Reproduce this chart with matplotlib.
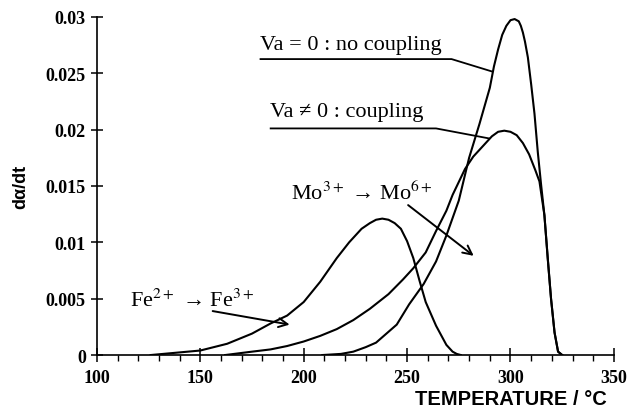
import numpy as np
import matplotlib
matplotlib.use("Agg")
import matplotlib.pyplot as plt
from matplotlib.ticker import MultipleLocator

plt.rcParams["mathtext.fontset"] = "stix"

# Fe2+ -> Fe3+ peak
fe_t = [126, 138, 150, 163, 175, 184, 192, 200, 208, 216, 222, 228, 232, 235,
        238, 241, 244, 247, 250, 253, 256, 259, 264, 269, 272, 274, 276]
fe_v = [0, 0.0002, 0.0004, 0.0010, 0.0019, 0.0028, 0.0035, 0.0047, 0.0065,
        0.0086, 0.0100, 0.0112, 0.0117, 0.0120, 0.0121, 0.0120, 0.0117, 0.0112,
        0.0101, 0.0086, 0.0066, 0.0047, 0.0026, 0.0009, 0.0003, 0.0001, 0]

# Va != 0 : coupling
cp_t = [162, 175, 184, 192, 200, 208, 216, 224, 232, 241, 248, 253, 259, 264,
        269, 272, 278, 282, 285, 288, 291, 294, 297, 300, 303, 306, 309, 312,
        314, 316.4, 318, 319.6, 321.3, 323, 325]
cp_v = [0, 0.0003, 0.0005, 0.0008, 0.0012, 0.0017, 0.0023, 0.0031, 0.0041,
        0.0054, 0.0067, 0.0077, 0.0091, 0.0110, 0.0128, 0.0142, 0.0165, 0.0176,
        0.0182, 0.0188, 0.0194, 0.0198, 0.0199, 0.0198, 0.0195, 0.0188, 0.0178,
        0.0164, 0.0154, 0.0124, 0.0086, 0.0050, 0.0020, 0.0003, 0]

# Va = 0 : no coupling
nc_t = [209, 218, 224, 230, 235, 240, 245, 251, 258, 264, 269, 275, 280, 285,
        290, 292, 294, 296, 298, 300, 302, 304, 305, 306, 307, 308.4, 310,
        311.6, 313.2, 314.8, 316.4, 318, 319.6, 321.3, 323, 325]
nc_v = [0, 0.0001, 0.0003, 0.0007, 0.0011, 0.0019, 0.0027, 0.0045, 0.0063,
        0.0083, 0.0106, 0.0137, 0.0175, 0.0205, 0.0237, 0.0256, 0.0271, 0.0284,
        0.0292, 0.0297, 0.0298, 0.0296, 0.0292, 0.0286, 0.0278, 0.0264, 0.0240,
        0.0214, 0.0180, 0.0151, 0.0124, 0.0086, 0.0050, 0.0020, 0.0003, 0]

y_ticks = [0, 0.005, 0.01, 0.015, 0.02, 0.025, 0.03]
y_labels = ["0", "0.005", "0.01", "0.015", "0.02", "0.025", "0.03"]
x_ticks = [100, 150, 200, 250, 300, 350]

fig = plt.figure(figsize=(6.29, 4.14), dpi=100)
ax = fig.add_axes([0.154, 0.14, 0.822, 0.817])

lw = 1.5
ax.plot(fe_t, fe_v, color="black", lw=lw)
ax.plot(cp_t, cp_v, color="black", lw=lw)
ax.plot(nc_t, nc_v, color="black", lw=lw)

ax.set_xlim(100, 350)
ax.set_ylim(0, 0.03)
for s in ["top", "right"]:
    ax.spines[s].set_visible(False)
for s in ["left", "bottom"]:
    ax.spines[s].set_linewidth(1.2)

ax.set_xticks(x_ticks)
ax.set_xticklabels([str(t) for t in x_ticks])
ax.xaxis.set_minor_locator(MultipleLocator(10))
ax.set_yticks(y_ticks)
ax.set_yticklabels(y_labels)
ax.tick_params(axis="x", which="major", direction="inout", length=10, width=1.1, pad=5)
ax.tick_params(axis="x", which="minor", direction="out", length=4, width=1)
ax.tick_params(axis="y", which="major", direction="inout", length=8, width=1.1, pad=4)
for lab in ax.get_xticklabels() + ax.get_yticklabels():
    lab.set_fontfamily("Liberation Serif")
    lab.set_fontweight("bold")
    lab.set_fontsize(13)

ax.set_ylabel("dα/dt", fontfamily="Liberation Sans", fontweight="bold", fontsize=13)
ax.yaxis.set_label_coords(-0.13, 0.5)
ax.set_xlabel("TEMPERATURE / °C", fontfamily="Liberation Sans", fontweight="bold", fontsize=14.5)
ax.xaxis.set_label_coords(0.8, -0.1)

txt = dict(fontfamily="Liberation Serif", fontsize=16, color="black")
line = dict(color="black", lw=1.3, solid_capstyle="butt")

# Va = 0 label with leader line to the no-coupling curve
ax.text(178.7, 0.0271, "Va = 0 : no coupling", ha="left", va="baseline", **txt)
t_nc = 291.5
ax.plot([178.7, 271.5, t_nc], [0.02625, 0.02625, np.interp(t_nc, nc_t, nc_v)], **line)

# Va != 0 label with leader line to the coupling curve
ax.text(183.6, 0.0212, "Va ≠ 0 : coupling", ha="left", va="baseline", **txt)
t_cp = 290
ax.plot([183.6, 264, t_cp], [0.0201, 0.0201, np.interp(t_cp, cp_t, cp_v)], **line)

arrow = dict(arrowstyle="->", color="black", lw=1.4, mutation_scale=16,
             shrinkA=0, shrinkB=0)
ax.text(194, 0.0138, r"Mo$^{3+}$ → Mo$^{6+}$", ha="left", va="baseline", **txt)
ax.annotate("", xy=(282.2, 0.0088), xytext=(250.5, 0.0133), arrowprops=arrow)

ax.text(116, 0.0044, r"Fe$^{2+}$ → Fe$^{3+}$", ha="left", va="baseline", **txt)
ax.annotate("", xy=(193.2, 0.0027), xytext=(156, 0.0039), arrowprops=arrow)

fig.savefig("out.png", dpi=100)
